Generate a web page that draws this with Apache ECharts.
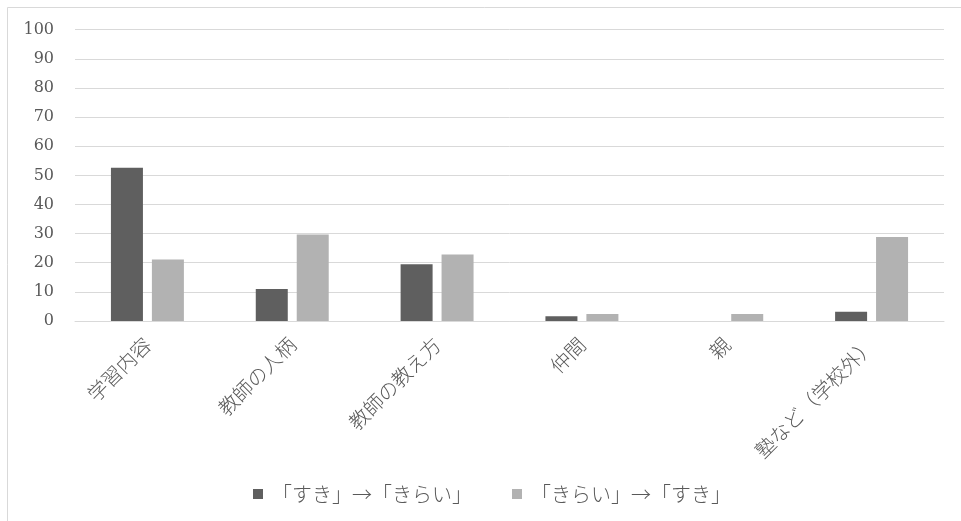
<!DOCTYPE html>
<html>
<head>
<meta charset="utf-8">
<script src="https://cdn.jsdelivr.net/npm/echarts@6/dist/echarts.min.js"></script>
<style>
  html, body { margin: 0; padding: 0; background: #ffffff; }
  #chart { width: 961px; height: 521px; }
</style>
</head>
<body>
<div id="chart"></div>
<script>
// Reasons for change in liking (percent)
const categories = ['学習内容', '教師の人柄', '教師の教え方', '仲間', '親', '塾など（学校外）'];
const seriesNames = ['「すき」→「きらい」', '「きらい」→「すき」'];
const likeToDislike = [52.6, 11.0, 19.5, 1.6, 0, 3.2];
const dislikeToLike = [21.1, 29.7, 22.8, 2.4, 2.4, 28.8];
const yTicks = [0, 10, 20, 30, 40, 50, 60, 70, 80, 90, 100];

const textColor = '#595959';
const lineColor = '#d9d9d9';
const jpFont = '"Noto Sans CJK JP", sans-serif';

const chart = echarts.init(document.getElementById('chart'), null, { renderer: 'canvas' });
chart.setOption({
  animation: false,
  backgroundColor: '#ffffff',
  graphic: [{
    type: 'rect',
    shape: { x: 7.5, y: 7.5, width: 970, height: 530 },
    style: { fill: 'none', stroke: lineColor, lineWidth: 1 },
    silent: true
  }],
  grid: { left: 75, right: 17, top: 29.7, bottom: 200, containLabel: false },
  legend: {
    left: 253,
    top: 484,
    padding: 0,
    itemWidth: 10,
    itemHeight: 10,
    itemGap: 40,
    icon: 'rect',
    textStyle: { color: textColor, fontSize: 20, fontWeight: 300, fontFamily: jpFont, padding: [0, 0, 0, 4] },
    data: seriesNames
  },
  xAxis: {
    type: 'category',
    data: categories,
    axisLine: { lineStyle: { color: lineColor, width: 1 } },
    axisTick: { show: false },
    axisLabel: {
      rotate: 45,
      margin: 20,
      interval: 0,
      color: textColor,
      fontSize: 20,
      fontWeight: 300,
      fontFamily: jpFont
    }
  },
  yAxis: {
    type: 'value',
    min: yTicks[0],
    max: yTicks[yTicks.length - 1],
    interval: yTicks[1] - yTicks[0],
    axisLine: { show: false },
    axisTick: { show: false },
    splitLine: { lineStyle: { color: lineColor, width: 1 } },
    axisLabel: {
      margin: 21,
      color: textColor,
      fontSize: 16,
      fontFamily: '"DejaVu Serif", serif'
    }
  },
  series: [
    {
      name: seriesNames[0],
      type: 'bar',
      data: likeToDislike,
      barWidth: 32,
      barGap: '28%',
      itemStyle: { color: '#5f5f5f' }
    },
    {
      name: seriesNames[1],
      type: 'bar',
      data: dislikeToLike,
      barWidth: 32,
      barGap: '28%',
      itemStyle: { color: '#b2b2b2' }
    }
  ]
});
</script>
</body>
</html>
